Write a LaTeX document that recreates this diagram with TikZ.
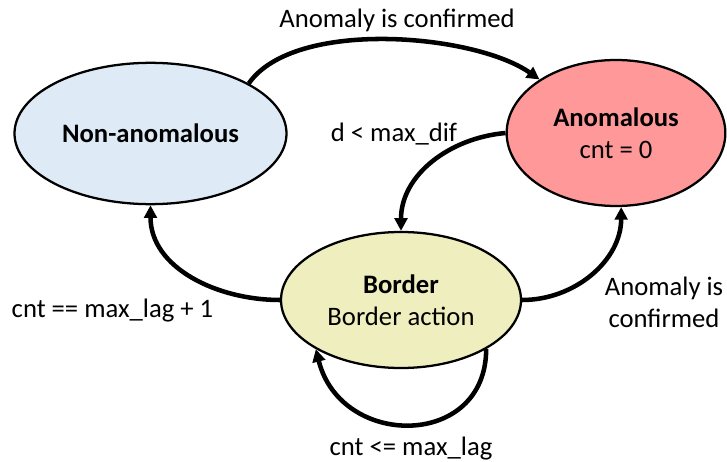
\documentclass[tikz,border=0pt]{standalone}
\usepackage{fontspec}
\setmainfont{Carlito}
\usetikzlibrary{shapes.geometric,arrows.meta}
\definecolor{calmblue}{RGB}{222,235,247}
\definecolor{alertred}{RGB}{255,153,153}
\definecolor{paleolive}{RGB}{238,238,190}
\begin{document}
\begin{tikzpicture}[x=0.75pt,y=0.75pt,
  every node/.style={font=\fontsize{20}{24}\selectfont},
  state/.style={ellipse, draw=black, line width=1.7pt, inner sep=0pt, align=center},
  trans/.style={line width=3.4pt, -{Triangle[length=9.5pt,width=9.5pt]}},
  lbl/.style={inner sep=0pt, align=center}]
\useasboundingbox (0,0) rectangle (727,461);

% states
\node[state, fill=calmblue, minimum width=204pt, minimum height=106pt] (na) at (150.5,327.5) {\textbf{Non-anomalous}};
\node[state, fill=alertred, minimum width=164pt, minimum height=109.5pt] (an) at (616,328) {\textbf{Anomalous}\\cnt = 0};
\node[state, fill=paleolive, minimum width=180pt, minimum height=102pt] (bd) at (401,161) {\textbf{Border}\\Border action};

% transitions
\draw[trans] (na.27) to[out=55,in=145,looseness=0.7] (an.145);
\draw[trans] (an.west) to[out=185,in=90] (bd.north);
\draw[trans] (bd.west) to[out=180,in=-90] (na.south);
\draw[trans] (bd.east) to[out=0,in=-90] (an.-86);
\draw[trans] (bd.-30) .. controls +(0,-100) and +(25,-100) .. (bd.210);

% transition labels
\node[lbl, anchor=base] (t1) at (397,433) {Anomaly is confirmed};
\node[lbl, anchor=base] (t2) at (394,319) {d < max\_dif};
\node[lbl, anchor=base] (t3) at (112.5,144) {cnt == max\_lag + 1};
\node[lbl] (t4) at (664,159) {Anomaly is\\confirmed};
\node[lbl, anchor=base] (t5) at (411,6) {cnt <= max\_lag};
\end{tikzpicture}
\end{document}
